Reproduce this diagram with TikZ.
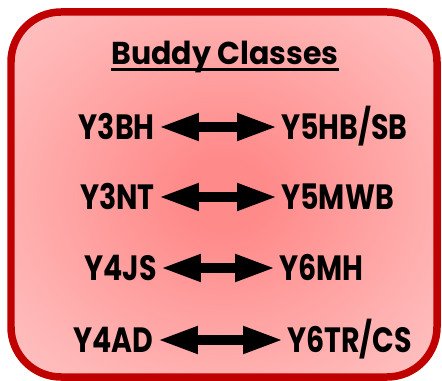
\documentclass[tikz,border=0pt]{standalone}
\usepackage{fontspec}
\setmainfont{Poppins}
\usepackage{xcolor}
\usepackage{graphicx}
\usepackage{tikz}
\usetikzlibrary{arrows.meta}

\definecolor{boxred}{RGB}{192,0,0}
\definecolor{glowin}{RGB}{255,138,138}
\definecolor{glowmid}{RGB}{255,182,182}
\definecolor{glowout}{RGB}{255,210,210}
\pgfdeclareradialshading{buddyglow}{\pgfpoint{0bp}{0bp}}{%
  color(0bp)=(glowin); color(5bp)=(glowin); color(28bp)=(glowmid); color(45bp)=(glowout); color(70bp)=(glowout)}
\newcommand{\squeeze}[2][0.81]{\scalebox{#1}[1]{#2}}

\tikzset{
  cls/.style={inner xsep=0.06cm, inner ysep=0pt, text height=0.5cm, text depth=0pt,
    font=\fontsize{20}{22}\selectfont\bfseries},
  buddy/.style={line width=0.2cm,
    {Triangle[length=0.82cm,width=0.5cm]}-{Triangle[length=0.82cm,width=0.5cm]}}
}

\begin{document}
\begin{tikzpicture}[x=0.02cm,y=-0.02cm]
		\useasboundingbox (0,0) rectangle (442,381);
		\draw[boxred, line width=0.15cm, rounded corners=1cm, shading=buddyglow]
		(11,12) rectangle (437,377);
		%
		\node[font=\fontsize{18}{20}\selectfont\bfseries, inner sep=0pt, anchor=base] (T) at (225,65) {\squeeze[0.95]{Buddy Classes}};
		\draw[line width=0.05cm] ([yshift=-0.09cm]T.base west) -- ([yshift=-0.09cm]T.base east);
		%
		\node[cls, anchor=east] (L1) at (158,127) {\squeeze{Y3BH}};
		\node[cls, anchor=east] (L2) at (158,197) {\squeeze{Y3NT}};
		\node[cls, anchor=east] (L3) at (160,268) {\squeeze{Y4JS}};
		\node[cls, anchor=east] (L4) at (157,340) {\squeeze{Y4AD}};
		\node[cls, anchor=west] (R1) at (278,127) {\squeeze{Y5HB/SB}};
		\node[cls, anchor=west] (R2) at (278,197) {\squeeze{Y5MWB}};
		\node[cls, anchor=west] (R3) at (276,268) {\squeeze{Y6MH}};
		\node[cls, anchor=west] (R4) at (284,340) {\squeeze{Y6TR/CS}};
		%
		\path[buddy]
		(L1) edge (R1)
		(L2) edge (R2)
		(L3) edge (R3)
		(L4) edge (R4);
	\end{tikzpicture}
\end{document}
